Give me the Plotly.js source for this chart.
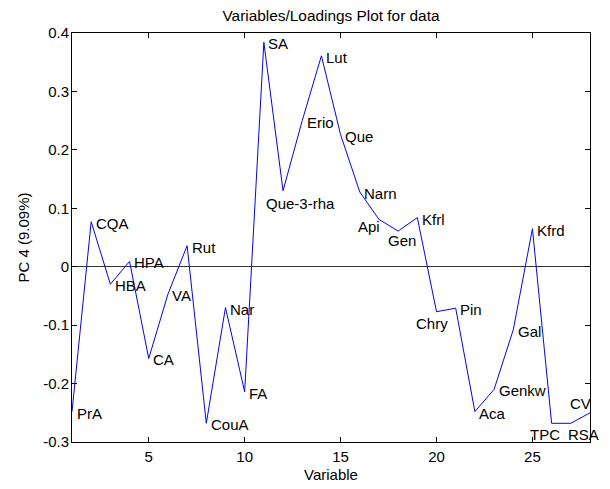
<!DOCTYPE html>
<html>
<head>
<meta charset="utf-8">
<script src="https://cdn.plot.ly/plotly-3.0.1.min.js"></script>
<style>html,body{margin:0;padding:0;background:#fff;}#chart{width:610px;height:489px;}</style>
</head>
<body>
<div id="chart"></div>
<script>
// Data: variable index (1..28), PC4 loadings, variable names
const variableIndex = [1,2,3,4,5,6,7,8,9,10,11,12,13,14,15,16,17,18,19,20,21,22,23,24,25,26,27,28];
const loadings = [-0.248, 0.077, -0.030, 0.009, -0.157, -0.047, 0.036, -0.268, -0.070, -0.214,
                  0.384, 0.130, 0.250, 0.361, 0.226, 0.128, 0.081, 0.061, 0.084, -0.077,
                  -0.071, -0.248, -0.210, -0.108, 0.065, -0.268, -0.268, -0.250];
const variableNames = ["PrA","CQA","HBA","HPA","CA","VA","Rut","CouA","Nar","FA",
                       "SA","Que-3-rha","Erio","Lut","Que","Narn","Api","Gen","Kfrl","Chry",
                       "Pin","Aca","Genkw","Gal","Kfrd","TPC","RSA","CV"];
const xTicks = [5,10,15,20,25];
const yTicks = [-0.3,-0.2,-0.1,0,0.1,0.2,0.3,0.4];

// label placement (pixel offsets of text left edge / vertical center from the point)
const defaultDx = 4.5, defaultDy = 1.5;
const specialOffsets = {
  "Que-3-rha": [-17.5, 12.3],
  "Api": [-21.2, 6.7],
  "Gen": [-10.4, 9.7],
  "Chry": [-20.1, 11.6],
  "TPC": [-22, 10.7],
  "RSA": [-2.9, 10.7],
  "CV": [-20.4, -9.4]
};

const FONT = '"Liberation Sans", Arial, Helvetica, sans-serif';

const annotations = variableNames.map((name, i) => {
  const off = specialOffsets[name] || [defaultDx, defaultDy];
  return {
    x: variableIndex[i], y: loadings[i], xref: 'x', yref: 'y',
    text: name, showarrow: false, xanchor: 'left', yanchor: 'middle',
    xshift: off[0] - 2, yshift: -off[1],
    font: {family: FONT, size: 15, color: '#000'}
  };
});

const trace = {
  x: variableIndex, y: loadings, type: 'scatter', mode: 'lines',
  line: {color: '#0000ff', width: 1}, hoverinfo: 'skip', cliponaxis: false
};

const layout = {
  width: 610, height: 489,
  margin: {l: 72, r: 20, t: 33, b: 47, pad: 0},
  paper_bgcolor: '#fff', plot_bgcolor: '#fff',
  showlegend: false,
  title: {text: 'Variables/Loadings Plot for data', font: {family: FONT, size: 15.4, color: '#000'},
          x: 0.5, xanchor: 'center', y: 1 - 16/489, yanchor: 'middle', xref: 'paper', yref: 'container'},
  xaxis: {
    range: [1, 28], tickvals: xTicks, ticktext: xTicks.map(String),
    ticks: 'inside', ticklen: 5, tickcolor: '#000', tickwidth: 1,
    showline: true, linecolor: '#000', linewidth: 1, mirror: 'ticks',
    showgrid: false, zeroline: false, ticklabelstandoff: 1,
    tickfont: {family: FONT, size: 15, color: '#000'},
    title: {text: 'Variable', font: {family: FONT, size: 15, color: '#000'}, standoff: 5}
  },
  yaxis: {
    range: [-0.3, 0.4], tickvals: yTicks, ticktext: yTicks.map(v => v === 0 ? '0' : String(v)),
    ticks: 'inside', ticklen: 5, tickcolor: '#000', tickwidth: 1,
    showline: true, linecolor: '#000', linewidth: 1, mirror: 'ticks',
    showgrid: false, zeroline: true, zerolinecolor: '#333', zerolinewidth: 1,
    ticklabelstandoff: -1,
    tickfont: {family: FONT, size: 15, color: '#000'},
    title: {text: 'PC 4 (9.09%)', font: {family: FONT, size: 15, color: '#000'}, standoff: 9}
  },
  annotations: annotations
};

Plotly.newPlot('chart', [trace], layout, {displayModeBar: false, staticPlot: true});
</script>
</body>
</html>
